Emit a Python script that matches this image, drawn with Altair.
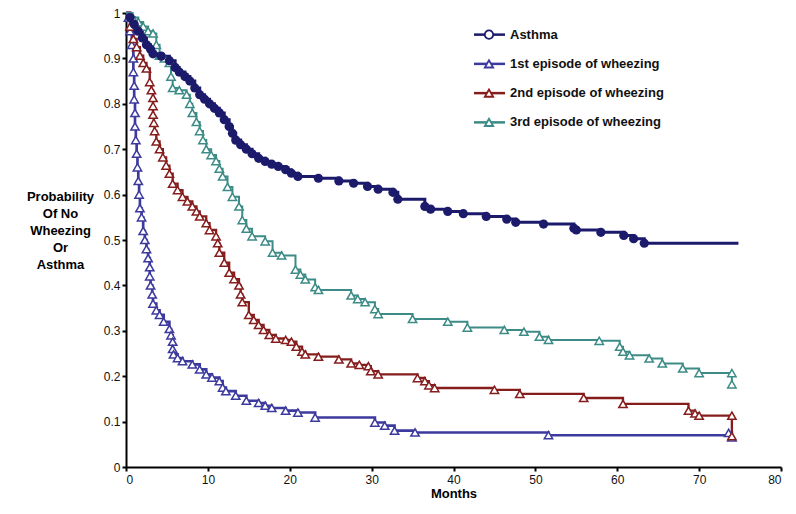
import altair as alt
import pandas as pd

series_names = ["Asthma", "1st episode of wheezing", "2nd episode of wheezing", "3rd episode of wheezing"]
series_colors = ["#1c1a6b", "#3d3a9e", "#861d1d", "#3c8b86"]
series_shapes = ["circle", "triangle-up", "triangle-up", "triangle-up"]

asthma_t = [0, 0.5, 1.0, 1.5, 2.0, 2.5, 3.0, 3.3, 4.3, 5.3, 6.0, 6.5, 7.2, 7.8, 8.4, 9.0, 9.6, 10.2, 10.8, 11.4,
            12.0, 12.6, 13.0, 13.4, 14.0, 14.7, 15.4, 16.2, 17.0, 17.8, 18.6, 19.5, 20.2, 21.0, 23.5, 26.0, 27.8,
            29.5, 30.8, 32.6, 33.2, 36.5, 37.2, 39.3, 41.2, 44.0, 46.5, 47.6, 51.0, 54.7, 55.0, 58.0, 60.8, 62.0,
            63.3, 74.8]
asthma_s = [1.0, 0.99, 0.975, 0.96, 0.945, 0.93, 0.92, 0.91, 0.905, 0.895, 0.88, 0.87, 0.86, 0.85, 0.835, 0.82,
            0.81, 0.8, 0.79, 0.78, 0.765, 0.75, 0.735, 0.72, 0.71, 0.70, 0.69, 0.68, 0.673, 0.667, 0.662, 0.655,
            0.647, 0.64, 0.636, 0.63, 0.625, 0.618, 0.612, 0.605, 0.59, 0.574, 0.568, 0.563, 0.558, 0.552, 0.546,
            0.539, 0.535, 0.526, 0.522, 0.517, 0.51, 0.503, 0.493, 0.493]

first_t = [0, 0.3, 0.5, 0.7, 0.9, 0.9, 1.0, 1.0, 1.1, 1.1, 1.2, 1.3, 1.4, 1.5, 1.6, 1.7, 1.9, 2.1, 2.3, 2.5, 2.7,
           2.9, 2.9, 3.0, 3.2, 3.3, 3.7, 4.1, 4.6, 5.3, 5.5, 5.7, 5.7, 5.8, 6.3, 6.9, 8.1, 9.0, 9.8, 10.5, 11.4,
           11.8, 12.2, 13.4, 14.7, 16.2, 17.0, 17.8, 19.5, 21.0, 23.1, 30.4, 31.6, 32.8, 35.3, 51.6, 73.6, 74.0]
first_s = [1.0, 0.99, 0.96, 0.93, 0.9, 0.87, 0.84, 0.81, 0.78, 0.75, 0.72, 0.69, 0.66, 0.63, 0.60, 0.57, 0.55,
           0.52, 0.5, 0.48, 0.46, 0.44, 0.42, 0.40, 0.38, 0.36, 0.345, 0.335, 0.32, 0.304, 0.29, 0.276, 0.26,
           0.248, 0.24, 0.233, 0.226, 0.215, 0.204, 0.197, 0.189, 0.175, 0.167, 0.157, 0.146, 0.141, 0.135, 0.13,
           0.124, 0.12, 0.109, 0.098, 0.091, 0.08, 0.076, 0.07, 0.075, 0.065]

second_t = [0, 0.5, 0.9, 1.3, 1.7, 2.1, 2.5, 2.9, 3.1, 3.3, 3.3, 3.3, 3.4, 3.5, 3.7, 4.1, 4.5, 4.9, 5.3, 5.7, 6.3,
            6.9, 7.5, 8.1, 8.6, 9.0, 9.8, 10.2, 11.0, 11.2, 11.4, 12.0, 12.6, 13.2, 13.8, 14.0, 14.2, 15.0, 15.6,
            16.2, 16.8, 17.5, 18.3, 19.5, 20.2, 20.8, 21.5, 21.9, 23.5, 26.0, 27.5, 28.5, 29.6, 29.9, 30.8, 35.6,
            36.5, 37.0, 37.7, 45.0, 48.1, 55.9, 60.7, 68.7, 69.5, 70.0, 74.0, 74.0]
second_s = [1.0, 0.97, 0.943, 0.925, 0.906, 0.89, 0.878, 0.848, 0.83, 0.813, 0.795, 0.776, 0.758, 0.74, 0.717,
            0.70, 0.682, 0.664, 0.646, 0.624, 0.61, 0.595, 0.585, 0.574, 0.563, 0.552, 0.537, 0.522, 0.508, 0.493,
            0.472, 0.45, 0.428, 0.414, 0.4, 0.38, 0.363, 0.335, 0.324, 0.313, 0.302, 0.291, 0.283, 0.28, 0.276,
            0.265, 0.254, 0.248, 0.243, 0.237, 0.228, 0.225, 0.222, 0.211, 0.204, 0.196, 0.189, 0.18, 0.174, 0.17,
            0.161, 0.152, 0.139, 0.124, 0.118, 0.113, 0.113, 0.068]

third_t = [0, 0.8, 1.5, 2.1, 2.7, 3.3, 3.7, 4.1, 4.7, 5.3, 5.5, 5.7, 6.5, 7.4, 7.8, 8.1, 8.6, 9.0, 9.4, 9.8, 10.4,
           11.0, 11.4, 11.8, 12.4, 13.0, 13.8, 14.2, 14.7, 15.4, 17.0, 17.9, 19.0, 20.7, 21.3, 21.9, 23.1, 23.5,
           27.5, 28.3, 29.2, 30.4, 30.8, 35.0, 39.3, 41.7, 46.2, 48.6, 50.5, 51.6, 57.8, 60.3, 60.7, 61.5, 63.9,
           65.5, 68.0, 70.0, 74.0, 74.0]
third_s = [1.0, 0.99, 0.98, 0.97, 0.96, 0.955, 0.93, 0.906, 0.9, 0.89, 0.86, 0.835, 0.83, 0.82, 0.8, 0.78, 0.76,
           0.74, 0.72, 0.70, 0.687, 0.674, 0.657, 0.64, 0.617, 0.595, 0.574, 0.544, 0.525, 0.508, 0.497, 0.472,
           0.466, 0.435, 0.424, 0.413, 0.396, 0.39, 0.378, 0.37, 0.363, 0.348, 0.337, 0.326, 0.32, 0.307, 0.302,
           0.298, 0.287, 0.28, 0.278, 0.265, 0.254, 0.246, 0.239, 0.228, 0.217, 0.207, 0.207, 0.182]

x_ticks = [0, 10, 20, 30, 40, 50, 60, 70, 80]
y_ticks = [0, 0.1, 0.2, 0.3, 0.4, 0.5, 0.6, 0.7, 0.8, 0.9, 1.0]
y_title = ["Probability", "Of No", "Wheezing", "Or", "Asthma"]

rows = []
for name, ts, ss in zip(series_names, [asthma_t, first_t, second_t, third_t],
                        [asthma_s, first_s, second_s, third_s]):
    n = len(ts)
    for i, (t, s) in enumerate(zip(ts, ss)):
        marker = i > 0 and not (name == "Asthma" and i == n - 1)
        rows.append({"series": name, "order": i, "month": t, "prob": s, "marker": marker})
df = pd.DataFrame(rows)
legend_df = pd.DataFrame({"series": series_names})

FONT = "Liberation Sans"

x = alt.X("month:Q", scale=alt.Scale(domain=[0, 80], nice=False),
          axis=alt.Axis(values=x_ticks, title="Months", grid=False, domainColor="black", domainWidth=2,
                        tickColor="black", tickWidth=2, tickSize=4, labelFont=FONT, labelFontSize=12,
                        labelColor="#111", labelPadding=3, titleFont=FONT, titleFontSize=13,
                        titleFontWeight="bold", titleColor="black", titlePadding=2))
y = alt.Y("prob:Q", scale=alt.Scale(domain=[0, 1], nice=False),
          axis=alt.Axis(values=y_ticks, format="~g", title=y_title, grid=False, domainColor="black",
                        domainWidth=2, tickColor="black", tickWidth=2, tickSize=4, labelFont=FONT,
                        labelFontSize=12, labelColor="#111", labelPadding=2, titleFont=FONT, titleFontSize=13,
                        titleFontWeight="bold", titleColor="black", titleAngle=0, titleAlign="center",
                        titleBaseline="top", titleX=-66, titleY=177, titleLineHeight=17))
color = alt.Color("series:N", scale=alt.Scale(domain=series_names, range=series_colors), legend=None)

base = alt.Chart(df)

lines = base.mark_line(interpolate="step-after").encode(
    x=x, y=y, color=color, detail="series:N", order="order:Q",
    strokeWidth=alt.StrokeWidth("series:N", scale=alt.Scale(domain=series_names, range=[3, 2, 2, 2]), legend=None),
)

circles = base.transform_filter("datum.series == 'Asthma' && datum.marker").mark_point(
    shape="circle", filled=True, size=85, opacity=1
).encode(x=x, y=y, color=color)

triangles = base.transform_filter("datum.series != 'Asthma' && datum.marker").mark_point(
    shape="triangle-up", filled=False, fill="white", size=70, strokeWidth=1.5, opacity=1
).encode(x=x, y=y, color=color)

main = alt.layer(lines, triangles, circles)

# legend drawn from its own small table through a band scale (rows centred in each band)
ly = alt.Y("series:N", scale=alt.Scale(domain=series_names, range=[7, 124], padding=0), axis=None)
lbase = alt.Chart(legend_df)
leg_rules = lbase.mark_rule(strokeWidth=2.5).encode(
    y=ly, x=alt.value(348), x2=alt.value(379), color=color)
leg_pts = lbase.mark_point(filled=False, fill="white", size=70, strokeWidth=1.8, opacity=1).encode(
    y=ly, x=alt.value(363), color=color,
    shape=alt.Shape("series:N", scale=alt.Scale(domain=series_names, range=series_shapes), legend=None))
leg_text = lbase.mark_text(align="left", baseline="middle", font=FONT, fontSize=13, fontWeight="bold",
                           color="#111").encode(y=ly, x=alt.value(384), text="series:N")
legend = alt.layer(leg_rules, leg_pts, leg_text)

chart = alt.layer(main, legend).resolve_scale(y="independent").properties(
    width=655, height=454,
    autosize=alt.AutoSizeParams(type="none"),
    padding={"left": 118, "top": 5, "right": 7, "bottom": 33},
).configure_view(stroke=None)

chart.save("out.html", embed_options={"renderer": "svg", "actions": False})
